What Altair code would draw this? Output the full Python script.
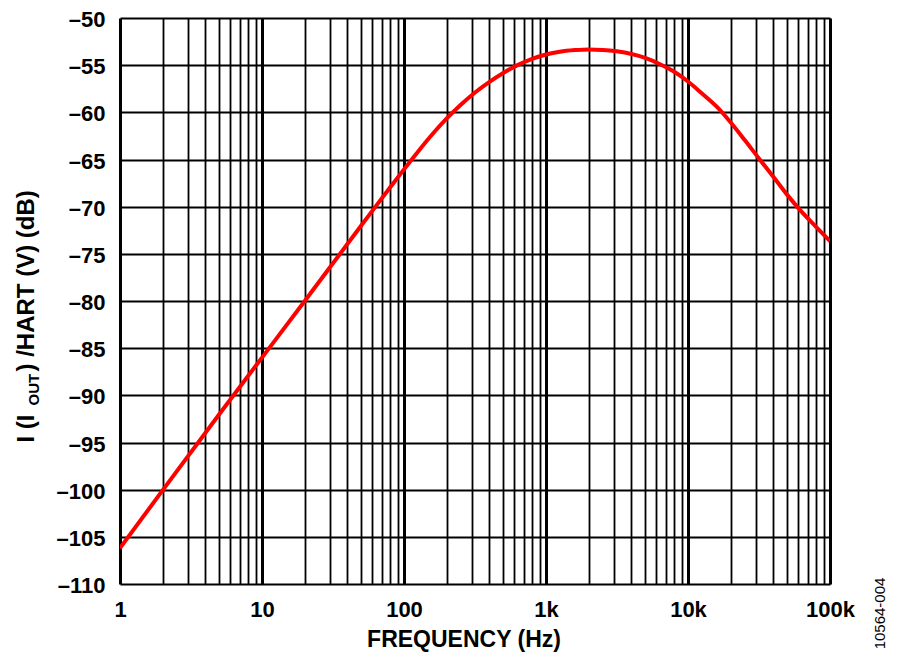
import altair as alt
import pandas as pd

# ---- data ----
FREQ_HZ = [1, 2, 5, 10, 20, 50, 63, 80,
           100, 125, 160, 200, 250, 315, 400, 500, 630, 800,
           1000, 1250, 1600, 2000, 2500, 3150, 4000, 5000, 6300, 8000,
           10000, 12500, 16000, 20000, 25000, 31500, 40000, 50000, 63000,
           80000, 100000]
GAIN_DB = [-106.2, -100.05, -92.0, -86.0, -80.0, -72.0, -70.0, -67.95,
           -66.05, -64.2, -62.25, -60.65, -59.22, -57.92, -56.77, -55.83,
           -55.0, -54.33,
           -53.87, -53.57, -53.4, -53.33, -53.38, -53.53, -53.81, -54.23,
           -54.87, -55.7,
           -56.73, -57.98, -59.43, -61.08, -62.91, -64.87, -66.85, -68.75,
           -70.53, -72.16, -73.66]

X_GRID = [m * 10 ** e for e in range(5) for m in range(1, 10)] + [100000]
X_TICKS = [1, 10, 100, 1000, 10000, 100000]
X_LABELS = ["1", "10", "100", "1k", "10k", "100k"]
Y_TICKS = [-110, -105, -100, -95, -90, -85, -80, -75, -70, -65, -60, -55, -50]
Y_LABELS = ["–110", "–105", "–100", "–95", "–90", "–85", "–80", "–75",
            "–70", "–65", "–60", "–55", "–50"]

X_TITLE = "FREQUENCY (Hz)"
Y_TITLE_MAIN_1 = "I (I"
Y_TITLE_SUB = "OUT"
Y_TITLE_MAIN_2 = ") /HART (V) (dB)"
FIG_ID = "10564-004"

FONT = "Liberation Sans, Arial, Helvetica, sans-serif"
W, H = 710, 566


def chain_expr(vals, labels):
    parts = [f"datum.value == {v} ? '{l}'" for v, l in zip(vals, labels)]
    return " : ".join(parts) + " : ''"


df = pd.DataFrame({"f": FREQ_HZ, "db": GAIN_DB})

x_scale = alt.Scale(type="log", domain=[1, 100000], nice=False)
y_scale = alt.Scale(domain=[-110, -50], nice=False)

decade_test = "indexof([" + ",".join(str(v) for v in X_TICKS) + "], datum.value) >= 0"

x_axis = alt.Axis(
    values=X_GRID, title=None, grid=True, gridColor="black",
    gridOpacity=1,
    gridWidth={"condition": {"test": decade_test, "value": 3}, "value": 1.8},
    ticks=False, domain=False, labelExpr=chain_expr(X_TICKS, X_LABELS),
    labelFont=FONT, labelFontSize=22, labelFontWeight="bold", labelColor="black",
    labelPadding=32, labelBaseline="alphabetic", labelFlush=False,
    labelOverlap=False, labelAlign="center",
)
y_axis = alt.Axis(
    values=Y_TICKS, title=None, grid=True, gridColor="black", gridOpacity=1,
    gridWidth=1.8, ticks=False, domain=False,
    labelExpr=chain_expr(Y_TICKS, Y_LABELS),
    labelFont=FONT, labelFontSize=22, labelFontWeight="bold", labelColor="black",
    labelPadding=15, labelFlush=False, labelOverlap=False, labelBaseline="middle",
    labelOffset=1.5,
)

curve = alt.Chart(df).mark_line(
    color="#ff0000", strokeWidth=4, interpolate="monotone", clip=True
).encode(
    x=alt.X("f:Q", scale=x_scale, axis=x_axis),
    y=alt.Y("db:Q", scale=y_scale, axis=y_axis),
)


def text_layer(txt, x, y, size, weight="bold", angle=0, align="left"):
    return alt.Chart(pd.DataFrame({"t": [txt]})).mark_text(
        font=FONT, fontSize=size, fontWeight=weight, color="black",
        angle=angle, align=align, baseline="alphabetic",
    ).encode(x=alt.value(x), y=alt.value(y), text="t:N")


y_t1 = text_layer(Y_TITLE_MAIN_1, -86, 424.5, 24, angle=270)
y_t2 = text_layer(Y_TITLE_SUB, -81, 387.5, 15, angle=270)
y_t3 = text_layer(Y_TITLE_MAIN_2, -86, 353.5, 24, angle=270)
x_t = text_layer(X_TITLE, 344, 629, 23, align="center")
fig_id = text_layer(FIG_ID, 765, 595.5, 15, weight="normal", angle=270, align="center")

chart = alt.layer(curve, y_t1, y_t2, y_t3, x_t, fig_id).properties(
    width=W, height=H,
    autosize=alt.AutoSizeParams(type="none"),
    padding={"left": 112, "top": 10, "right": 60, "bottom": 70},
).configure_view(stroke="black", strokeWidth=3).configure(background="white")

chart.save("out.html", embed_options={"renderer": "svg", "actions": False})
